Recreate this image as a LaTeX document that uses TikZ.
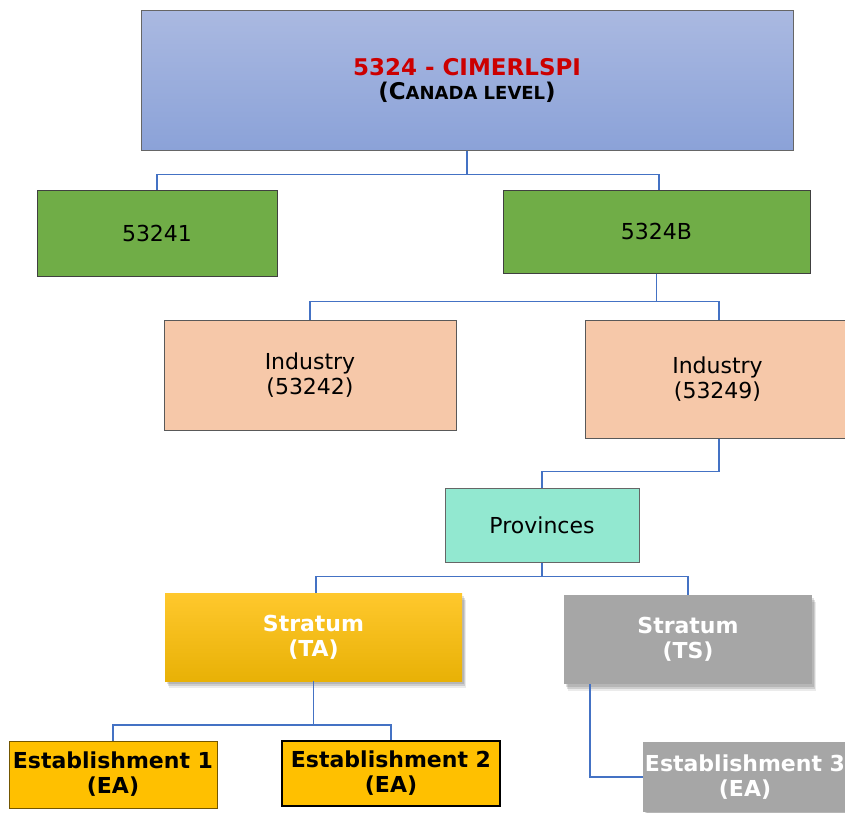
\documentclass[tikz,border=0pt]{standalone}
\usepackage{fontspec}
\setmainfont{DejaVu Sans}
\usetikzlibrary{shadows}
\definecolor{topT}{RGB}{170,185,225}
\definecolor{topB}{RGB}{139,162,216}
\definecolor{titlered}{RGB}{204,0,0}
\definecolor{grn}{RGB}{112,173,71}
\definecolor{peach}{RGB}{246,200,169}
\definecolor{mint}{RGB}{146,232,208}
\definecolor{goldT}{RGB}{255,200,45}
\definecolor{goldB}{RGB}{232,177,6}
\definecolor{gold}{RGB}{255,192,0}
\definecolor{grayfill}{RGB}{166,166,166}
\definecolor{conncol}{RGB}{68,114,196}
\begin{document}
\begin{tikzpicture}[x=1pt,y=-1pt,
  box/.style={rectangle,inner sep=0pt,align=center,font=\fontsize{22}{25}\selectfont},
  bbox/.style={box,font=\fontsize{22}{25}\selectfont\bfseries},
  conn/.style={draw=conncol,line width=1.8pt},
  softshadow/.style={
    drop shadow={shadow xshift=2pt,shadow yshift=-3pt,opacity=0.12,fill=black},
    drop shadow={shadow xshift=3pt,shadow yshift=-5pt,opacity=0.12,fill=black},
    drop shadow={shadow xshift=4pt,shadow yshift=-7pt,opacity=0.08,fill=black}}]
\useasboundingbox (0,0) rectangle (845,812);
% nodes
\node[box,draw=gray!80!black,line width=1pt,top color=topT,bottom color=topB,
  minimum width=652pt,minimum height=140pt] (top) at (467,80)
  {\textcolor{titlered}{\fontsize{23}{26}\selectfont\bfseries 5324 - CIMERLSPI}\\[-1pt]{\bfseries\fontsize{23}{26}\selectfont(C{\fontsize{18}{20}\selectfont ANADA LEVEL})}};
\node[box,draw=black!75,line width=1pt,fill=grn,minimum width=240pt,minimum height=86pt] (g1) at (157,233) {53241};
\node[box,draw=black!75,line width=1pt,fill=grn,minimum width=307pt,minimum height=83pt] (g2) at (656.5,231.5) {5324B};
\node[box,draw=black!65,line width=1pt,fill=peach,minimum width=292pt,minimum height=110pt] (i1) at (310,375) {Industry\\(53242)};
\node[box,draw=black!65,line width=1pt,fill=peach,minimum width=265pt,minimum height=118pt] (i2) at (717.5,379) {Industry\\(53249)};
\node[box,draw=black!60,line width=1pt,fill=mint,minimum width=194pt,minimum height=74pt] (prov) at (542,525) {Provinces};
\node[bbox,softshadow,top color=goldT,bottom color=goldB,text=white,
  minimum width=297pt,minimum height=88pt] (ta) at (313.5,637) {Stratum\\(TA)};
\node[bbox,softshadow,fill=grayfill,text=white,
  minimum width=248pt,minimum height=89pt] (ts) at (688,639.5) {Stratum\\(TS)};
\node[bbox,draw=black!55!gold,line width=1pt,fill=gold,
  minimum width=208pt,minimum height=67pt] (e1) at (113,774.5) {Establishment 1\\(EA)};
\node[bbox,draw=black,line width=2pt,fill=gold,
  minimum width=218pt,minimum height=65pt] (e2) at (391,773.5) {Establishment 2\\(EA)};
\node[bbox,softshadow,fill=grayfill,text=white,
  minimum width=204pt,minimum height=70pt] (e3) at (745,777) {Establishment 3\\(EA)};
% connectors
\draw[conn] (top.south) -- ++(0,24) -| (g1.north);
\draw[conn] (top.south) -- ++(0,24) -| ([xshift=2.5pt]g2.north);
\draw[conn] (g2.south) -- ++(0,28) -| (i1.north);
\draw[conn] (g2.south) -- ++(0,28) -| ([xshift=1.5pt]i2.north);
\draw[conn] ([xshift=1.5pt]i2.south) -- ++(0,33) -| (prov.north);
\draw[conn] (prov.south) -- ++(0,14) -| ([xshift=2.5pt]ta.north);
\draw[conn] (prov.south) -- ++(0,14) -| (ts.north);
\draw[conn] (ta.south) -- ++(0,44) -| (e1.north);
\draw[conn] (ta.south) -- ++(0,44) -| (e2.north);
\draw[conn] ([xshift=26pt]ts.south west) |- (e3.west);
\end{tikzpicture}
\end{document}
